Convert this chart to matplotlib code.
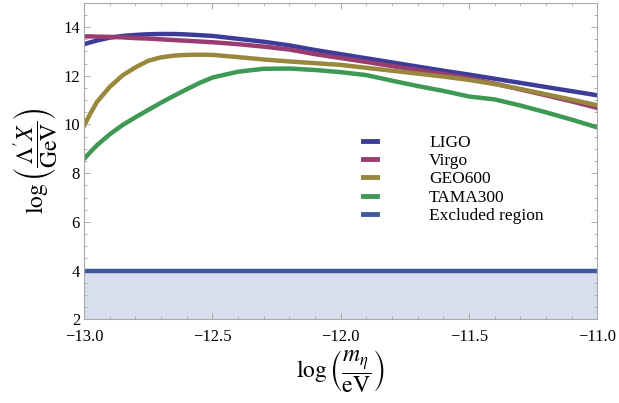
import matplotlib
matplotlib.use("Agg")
import matplotlib.pyplot as plt
from matplotlib.ticker import MultipleLocator

plt.rcParams["font.family"] = ["Liberation Serif", "DejaVu Serif"]
plt.rcParams["mathtext.fontset"] = "stix"

# ── data ──────────────────────────────────────────────────────────────────────
log_m = [-13.0, -12.975, -12.95, -12.9, -12.85, -12.8, -12.75, -12.7, -12.65, -12.6,
         -12.55, -12.5, -12.4, -12.3, -12.2, -12.1, -12.0, -11.9, -11.8, -11.7,
         -11.6, -11.5, -11.4, -11.3, -11.2, -11.1, -11.0]

ligo = [13.30, 13.38, 13.45, 13.57, 13.64, 13.68, 13.71, 13.72, 13.72, 13.70,
        13.67, 13.64, 13.52, 13.40, 13.25, 13.06, 12.89, 12.72, 12.55, 12.38,
        12.21, 12.05, 11.88, 11.71, 11.54, 11.37, 11.20]
virgo = [13.62, 13.62, 13.61, 13.60, 13.58, 13.55, 13.53, 13.50, 13.47, 13.44,
         13.41, 13.38, 13.30, 13.20, 13.08, 12.89, 12.73, 12.57, 12.40, 12.24,
         12.07, 11.90, 11.68, 11.44, 11.20, 10.95, 10.68]
geo600 = [9.96, 10.47, 10.93, 11.55, 12.02, 12.35, 12.62, 12.76, 12.83, 12.86,
          12.87, 12.86, 12.77, 12.67, 12.59, 12.52, 12.45, 12.33, 12.21, 12.09,
          11.97, 11.83, 11.66, 11.46, 11.24, 11.02, 10.79]
tama300 = [8.59, 8.88, 9.15, 9.60, 9.98, 10.30, 10.60, 10.90, 11.18, 11.45,
           11.71, 11.93, 12.17, 12.29, 12.30, 12.24, 12.15, 12.03, 11.80, 11.58,
           11.38, 11.15, 11.03, 10.78, 10.50, 10.20, 9.88]

excluded_level = 4.0
y_floor = 2.0

series = [
    ("LIGO", ligo, (0.24, 0.24, 0.60)),
    ("Virgo", virgo, (0.60, 0.24, 0.44)),
    ("GEO600", geo600, (0.60, 0.53, 0.24)),
    ("TAMA300", tama300, (0.24, 0.60, 0.33)),
]
excl_color = (0.24, 0.35, 0.60)

# ── plot ──────────────────────────────────────────────────────────────────────
fig = plt.figure(figsize=(6.19, 4.03), dpi=100)
ax = fig.add_axes([0.136, 0.208, 0.829, 0.785])

for name, vals, col in series:
    ax.plot(log_m, vals, color=col, lw=3.2, label=name, solid_joinstyle="round")

ax.fill_between([log_m[0], log_m[-1]], y_floor, excluded_level,
                color=(0.85, 0.87, 0.93), lw=0)
ax.plot([log_m[0], log_m[-1]], [excluded_level, excluded_level],
        color=excl_color, lw=3.2, label="Excluded region")

ax.set_xlim(-13, -11)
ax.set_ylim(2, 15)
ax.xaxis.set_major_locator(MultipleLocator(0.5))
ax.xaxis.set_minor_locator(MultipleLocator(0.1))
ax.yaxis.set_minor_locator(MultipleLocator(0.5))
ax.set_yticks([2, 4, 6, 8, 10, 12, 14])
ax.xaxis.set_major_formatter(plt.FuncFormatter(lambda v, p: f"{v:.1f}".replace("-", "\u2212")))

ax.tick_params(which="both", direction="in", top=True, right=True,
               color="#999999", labelsize=12)
ax.tick_params(axis="x", pad=7)
ax.tick_params(axis="y", pad=3)
ax.tick_params(which="major", length=4, width=0.6)
ax.tick_params(which="minor", length=2, width=0.5)
for s in ax.spines.values():
    s.set_color("#aaaaaa")
    s.set_linewidth(0.8)

ax.set_xlabel(r"$\log\left(\dfrac{m_\eta}{\mathrm{eV}}\right)$", fontsize=17, labelpad=2)
ax.set_ylabel(r"$\log\left(\dfrac{\Lambda' X}{\mathrm{GeV}}\right)$", fontsize=17, labelpad=2)

leg = ax.legend(loc="upper left", bbox_to_anchor=(0.53, 0.605), frameon=False,
                fontsize=12.5, handlelength=0.8, handletextpad=3.0,
                labelspacing=0.12, borderaxespad=0)
for h in leg.get_lines():
    h.set_linewidth(3.5)

fig.savefig("out.png", dpi=100)
